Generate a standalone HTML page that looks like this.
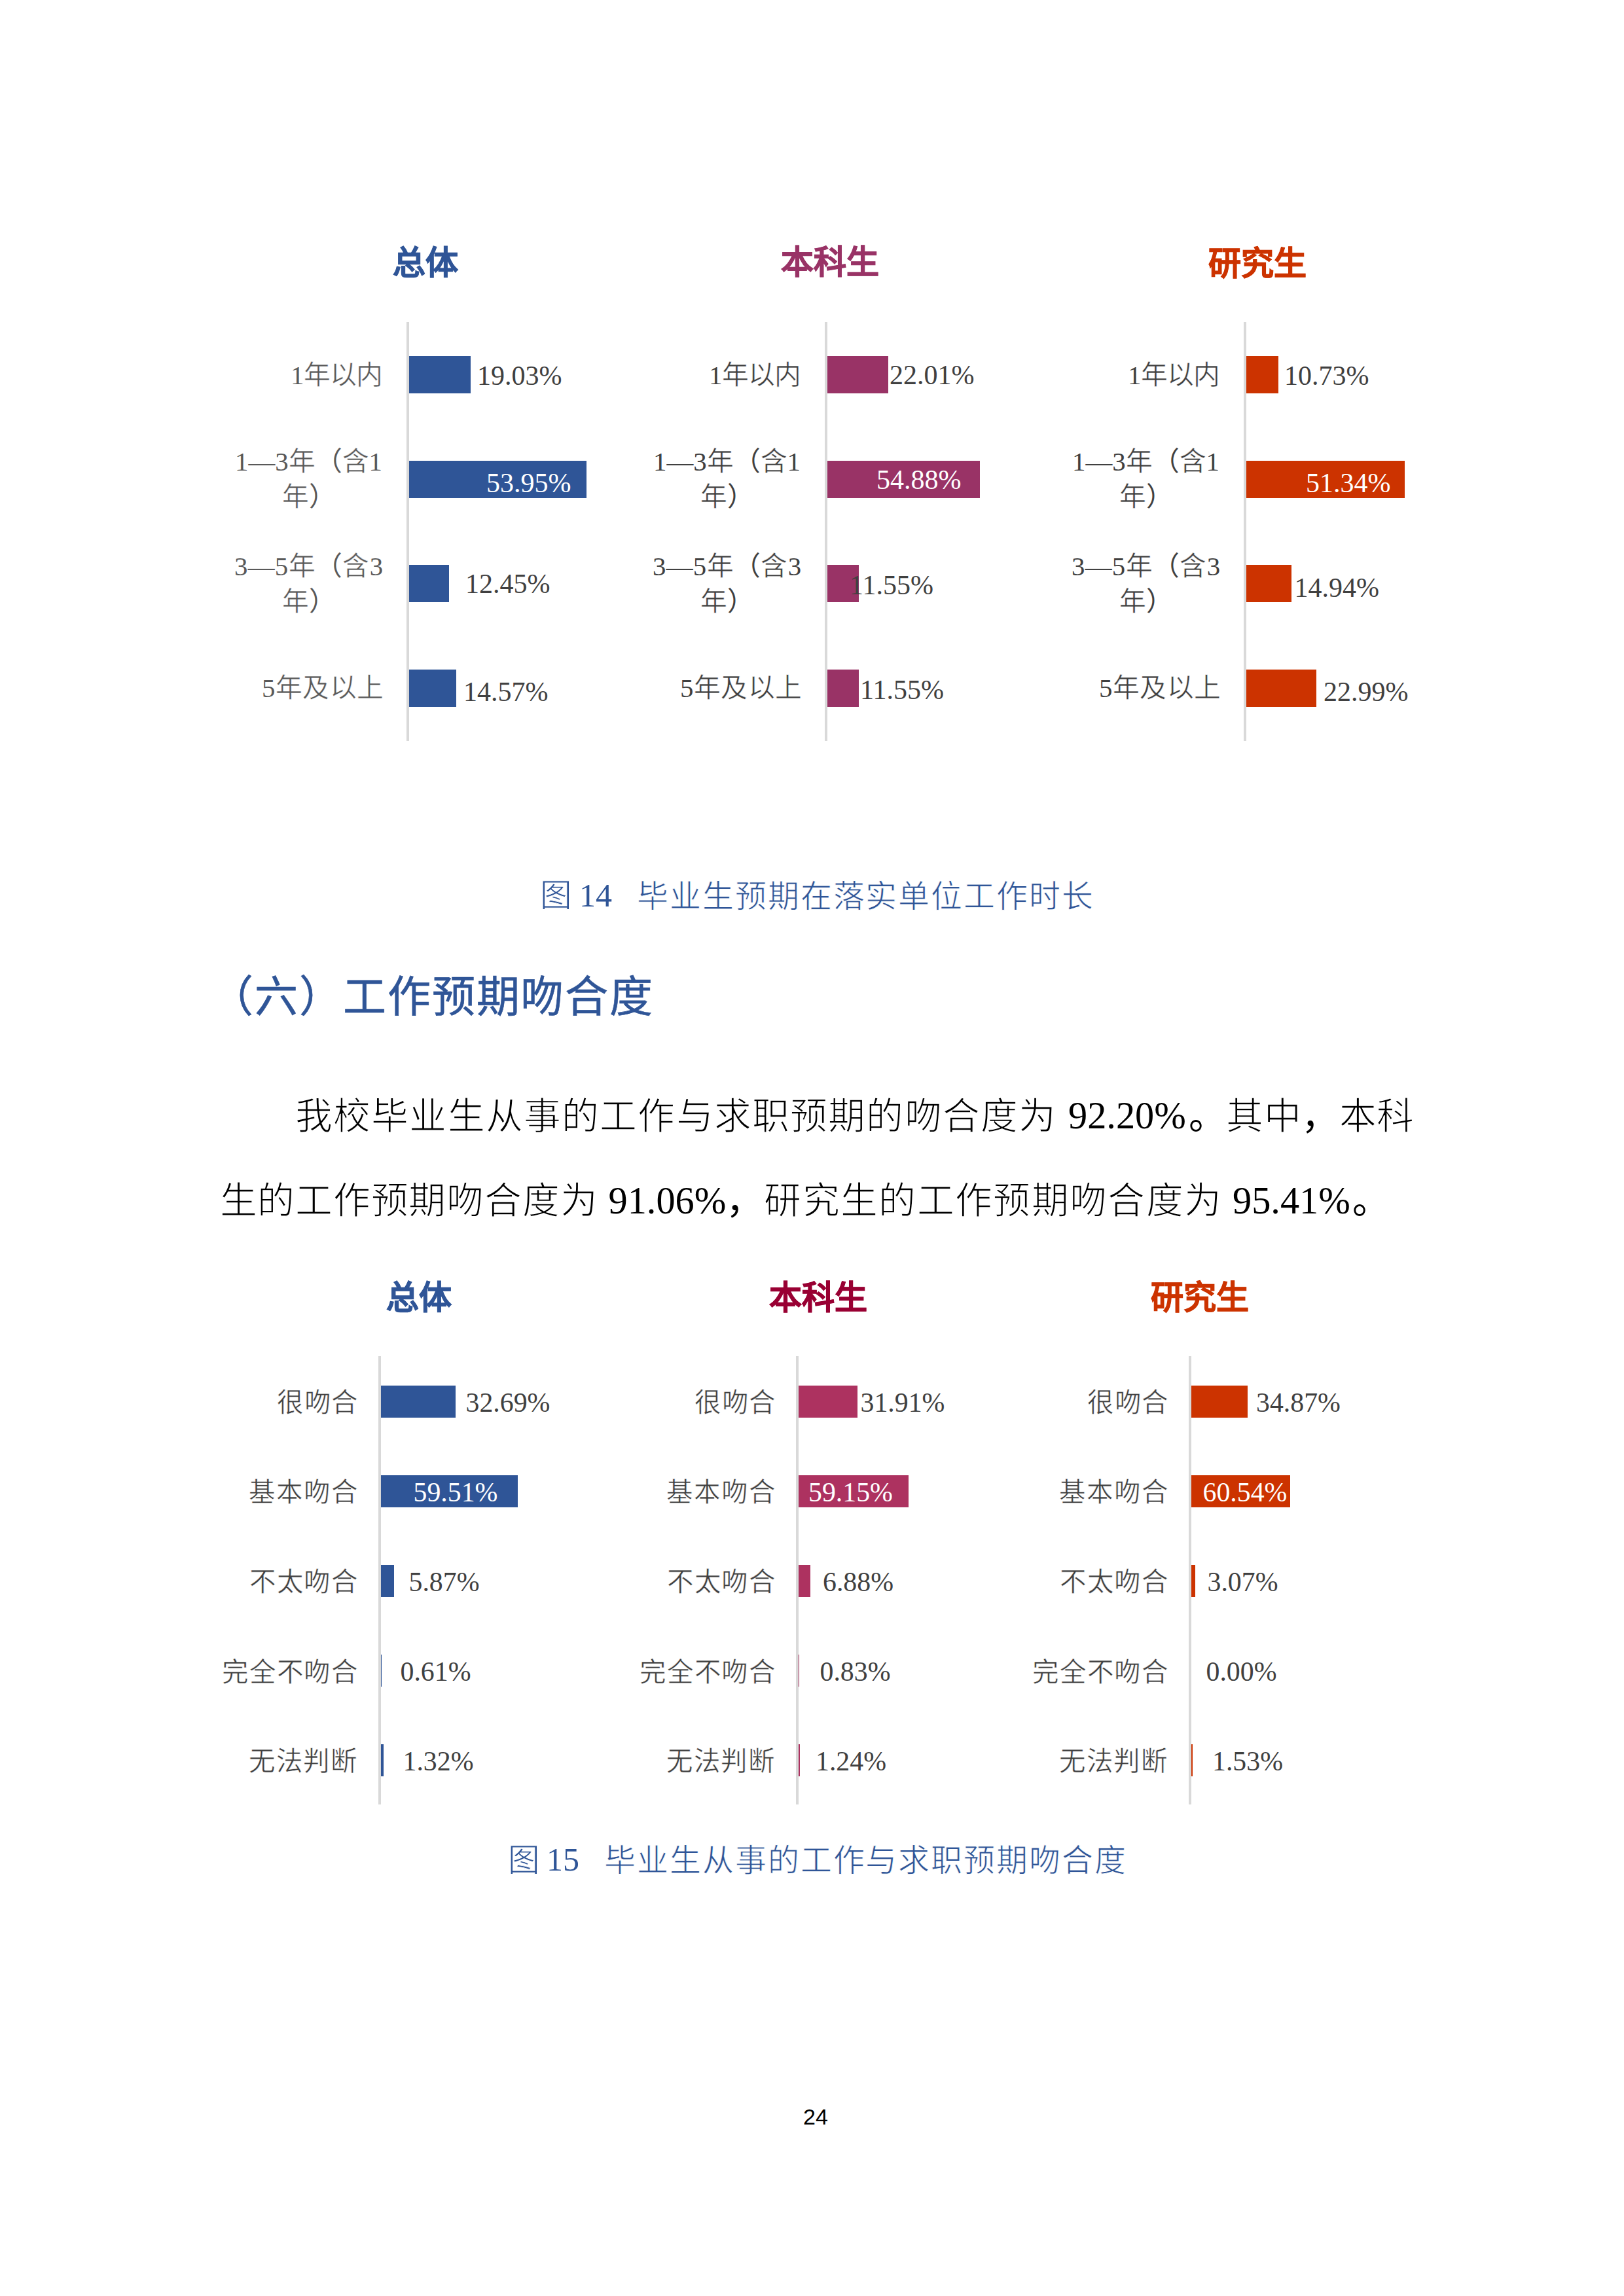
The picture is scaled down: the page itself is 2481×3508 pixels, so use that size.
<!DOCTYPE html><html lang="zh-CN"><head><meta charset="utf-8"><title>page 24</title><style>
html,body{margin:0;padding:0;background:#fff;}
body{width:2481px;height:3508px;position:relative;overflow:hidden;}
.r{position:absolute;}
.t{position:absolute;white-space:nowrap;line-height:1;}
</style></head><body>
<div class="r" style="left:621px;top:492px;width:4px;height:640px;background:#D9D9D9"></div>
<div class="r" style="left:625px;top:544px;width:94px;height:57px;background:#2F5597"></div>
<div class="r" style="left:625px;top:704px;width:271px;height:57px;background:#2F5597"></div>
<div class="r" style="left:625px;top:863px;width:61px;height:57px;background:#2F5597"></div>
<div class="r" style="left:625px;top:1023px;width:72px;height:57px;background:#2F5597"></div>
<div class="r" style="left:1260px;top:492px;width:4px;height:640px;background:#D9D9D9"></div>
<div class="r" style="left:1264px;top:544px;width:93px;height:57px;background:#993366"></div>
<div class="r" style="left:1264px;top:704px;width:233px;height:57px;background:#993366"></div>
<div class="r" style="left:1264px;top:863px;width:48px;height:57px;background:#993366"></div>
<div class="r" style="left:1264px;top:1023px;width:48px;height:57px;background:#993366"></div>
<div class="r" style="left:1900px;top:492px;width:4px;height:640px;background:#D9D9D9"></div>
<div class="r" style="left:1904px;top:544px;width:49px;height:57px;background:#CC3300"></div>
<div class="r" style="left:1904px;top:704px;width:242px;height:57px;background:#CC3300"></div>
<div class="r" style="left:1904px;top:863px;width:69px;height:57px;background:#CC3300"></div>
<div class="r" style="left:1904px;top:1023px;width:107px;height:57px;background:#CC3300"></div>
<div class="r" style="left:578px;top:2072px;width:4px;height:685px;background:#D9D9D9"></div>
<div class="r" style="left:582px;top:2117px;width:114px;height:49px;background:#2F5597"></div>
<div class="r" style="left:582px;top:2254px;width:209px;height:49px;background:#2F5597"></div>
<div class="r" style="left:582px;top:2391px;width:20px;height:49px;background:#2F5597"></div>
<div class="r" style="left:582px;top:2528px;width:1px;height:49px;background:#2F5597"></div>
<div class="r" style="left:582px;top:2665px;width:4px;height:49px;background:#2F5597"></div>
<div class="r" style="left:1216px;top:2072px;width:4px;height:685px;background:#D9D9D9"></div>
<div class="r" style="left:1220px;top:2117px;width:90px;height:49px;background:#AD3260"></div>
<div class="r" style="left:1220px;top:2254px;width:168px;height:49px;background:#AD3260"></div>
<div class="r" style="left:1220px;top:2391px;width:18px;height:49px;background:#AD3260"></div>
<div class="r" style="left:1220px;top:2528px;width:1px;height:49px;background:#AD3260"></div>
<div class="r" style="left:1220px;top:2665px;width:2px;height:49px;background:#AD3260"></div>
<div class="r" style="left:1816px;top:2072px;width:4px;height:685px;background:#D9D9D9"></div>
<div class="r" style="left:1820px;top:2117px;width:86px;height:49px;background:#CC3300"></div>
<div class="r" style="left:1820px;top:2254px;width:151px;height:49px;background:#CC3300"></div>
<div class="r" style="left:1820px;top:2391px;width:6px;height:49px;background:#CC3300"></div>
<div class="r" style="left:1820px;top:2665px;width:2px;height:49px;background:#CC3300"></div>
<div class="t" id="e0" style='left:600.00px;top:377.00px;font-family:"Liberation Sans", sans-serif;font-size:50.00px;color:#2F5597;font-weight:bold;-webkit-text-stroke:0.8px #2F5597'>总体</div>
<div class="t" id="e1" style='left:1193.00px;top:376.00px;font-family:"Liberation Sans", sans-serif;font-size:50.00px;color:#993366;font-weight:bold;-webkit-text-stroke:0.8px #993366'>本科生</div>
<div class="t" id="e2" style='left:1846.00px;top:378.00px;font-family:"Liberation Sans", sans-serif;font-size:50.00px;color:#CC3300;font-weight:bold;-webkit-text-stroke:0.8px #CC3300'>研究生</div>
<div class="t" id="e3" style='left:444.00px;top:554.10px;font-family:"Liberation Serif", serif;font-size:40.80px;color:#595959;letter-spacing:-0.667px'>1<span style="-webkit-text-stroke:0.55px #fff">年以内</span></div>
<div class="t" id="e4" style='left:359.00px;top:686.10px;font-family:"Liberation Serif", serif;font-size:40.80px;color:#595959'>1—3<span style="-webkit-text-stroke:0.55px #fff">年</span>（<span style="-webkit-text-stroke:0.55px #fff">含</span>1</div>
<div class="t" id="e5" style='left:431.00px;top:740.10px;font-family:"Liberation Serif", serif;font-size:40.80px;color:#595959'><span style="-webkit-text-stroke:0.55px #fff">年</span>）</div>
<div class="t" id="e6" style='left:358.00px;top:846.10px;font-family:"Liberation Serif", serif;font-size:40.80px;color:#595959;letter-spacing:0.333px'>3—5<span style="-webkit-text-stroke:0.55px #fff">年</span>（<span style="-webkit-text-stroke:0.55px #fff">含</span>3</div>
<div class="t" id="e7" style='left:431.00px;top:900.10px;font-family:"Liberation Serif", serif;font-size:40.80px;color:#595959'><span style="-webkit-text-stroke:0.55px #fff">年</span>）</div>
<div class="t" id="e8" style='left:400.00px;top:1032.10px;font-family:"Liberation Serif", serif;font-size:40.80px;color:#595959;letter-spacing:0.500px'>5<span style="-webkit-text-stroke:0.55px #fff">年及以上</span></div>
<div class="t" id="e9" style='left:1083.00px;top:554.10px;font-family:"Liberation Serif", serif;font-size:40.80px;color:#404040;letter-spacing:-0.667px'>1<span style="-webkit-text-stroke:0.55px #fff">年以内</span></div>
<div class="t" id="e10" style='left:998.00px;top:686.10px;font-family:"Liberation Serif", serif;font-size:40.80px;color:#404040'>1—3<span style="-webkit-text-stroke:0.55px #fff">年</span>（<span style="-webkit-text-stroke:0.55px #fff">含</span>1</div>
<div class="t" id="e11" style='left:1070.00px;top:740.10px;font-family:"Liberation Serif", serif;font-size:40.80px;color:#404040'><span style="-webkit-text-stroke:0.55px #fff">年</span>）</div>
<div class="t" id="e12" style='left:997.00px;top:846.10px;font-family:"Liberation Serif", serif;font-size:40.80px;color:#404040;letter-spacing:0.333px'>3—5<span style="-webkit-text-stroke:0.55px #fff">年</span>（<span style="-webkit-text-stroke:0.55px #fff">含</span>3</div>
<div class="t" id="e13" style='left:1070.00px;top:900.10px;font-family:"Liberation Serif", serif;font-size:40.80px;color:#404040'><span style="-webkit-text-stroke:0.55px #fff">年</span>）</div>
<div class="t" id="e14" style='left:1039.00px;top:1032.10px;font-family:"Liberation Serif", serif;font-size:40.80px;color:#404040;letter-spacing:0.500px'>5<span style="-webkit-text-stroke:0.55px #fff">年及以上</span></div>
<div class="t" id="e15" style='left:1723.00px;top:554.10px;font-family:"Liberation Serif", serif;font-size:40.80px;color:#404040;letter-spacing:-0.667px'>1<span style="-webkit-text-stroke:0.55px #fff">年以内</span></div>
<div class="t" id="e16" style='left:1638.00px;top:686.10px;font-family:"Liberation Serif", serif;font-size:40.80px;color:#404040'>1—3<span style="-webkit-text-stroke:0.55px #fff">年</span>（<span style="-webkit-text-stroke:0.55px #fff">含</span>1</div>
<div class="t" id="e17" style='left:1710.00px;top:740.10px;font-family:"Liberation Serif", serif;font-size:40.80px;color:#404040'><span style="-webkit-text-stroke:0.55px #fff">年</span>）</div>
<div class="t" id="e18" style='left:1637.00px;top:846.10px;font-family:"Liberation Serif", serif;font-size:40.80px;color:#404040;letter-spacing:0.333px'>3—5<span style="-webkit-text-stroke:0.55px #fff">年</span>（<span style="-webkit-text-stroke:0.55px #fff">含</span>3</div>
<div class="t" id="e19" style='left:1710.00px;top:900.10px;font-family:"Liberation Serif", serif;font-size:40.80px;color:#404040'><span style="-webkit-text-stroke:0.55px #fff">年</span>）</div>
<div class="t" id="e20" style='left:1679.00px;top:1032.10px;font-family:"Liberation Serif", serif;font-size:40.80px;color:#404040;letter-spacing:0.500px'>5<span style="-webkit-text-stroke:0.55px #fff">年及以上</span></div>
<div class="t" id="e21" style='left:729.00px;top:552.96px;font-family:"Liberation Serif", serif;font-size:42.00px;color:#404040'>19.03%</div>
<div class="t" id="e22" style='left:743.00px;top:716.96px;font-family:"Liberation Serif", serif;font-size:42.00px;color:#FFFFFF'>53.95%</div>
<div class="t" id="e23" style='left:711.00px;top:871.46px;font-family:"Liberation Serif", serif;font-size:42.00px;color:#404040'>12.45%</div>
<div class="t" id="e24" style='left:708.00px;top:1035.76px;font-family:"Liberation Serif", serif;font-size:42.00px;color:#404040'>14.57%</div>
<div class="t" id="e25" style='left:1359.00px;top:551.96px;font-family:"Liberation Serif", serif;font-size:42.00px;color:#404040'>22.01%</div>
<div class="t" id="e26" style='left:1339.00px;top:711.96px;font-family:"Liberation Serif", serif;font-size:42.00px;color:#FFFFFF'>54.88%</div>
<div class="t" id="e27" style='left:1298.00px;top:872.56px;font-family:"Liberation Serif", serif;font-size:42.00px;color:#404040'>11.55%</div>
<div class="t" id="e28" style='left:1314.00px;top:1032.96px;font-family:"Liberation Serif", serif;font-size:42.00px;color:#404040'>11.55%</div>
<div class="t" id="e29" style='left:1962.00px;top:552.96px;font-family:"Liberation Serif", serif;font-size:42.00px;color:#404040'>10.73%</div>
<div class="t" id="e30" style='left:1995.00px;top:716.96px;font-family:"Liberation Serif", serif;font-size:42.00px;color:#FFFFFF'>51.34%</div>
<div class="t" id="e31" style='left:1977.50px;top:876.76px;font-family:"Liberation Serif", serif;font-size:42.00px;color:#404040'>14.94%</div>
<div class="t" id="e32" style='left:2022.00px;top:1036.16px;font-family:"Liberation Serif", serif;font-size:42.00px;color:#404040'>22.99%</div>
<div class="t" id="e33" style='left:825.00px;top:1345.18px;font-family:"Liberation Serif", serif;font-size:48.50px;color:#2F5597'><span style="-webkit-text-stroke:0.9px #fff">图</span></div>
<div class="t" id="e34" style='left:885.00px;top:1343.00px;font-family:"Liberation Serif", serif;font-size:50.00px;color:#2F5597'>14</div>
<div class="t" id="e35" style='left:973.00px;top:1346.24px;font-family:"Liberation Serif", serif;font-size:48.00px;color:#2F5597;letter-spacing:1.923px'><span style="-webkit-text-stroke:0.9px #fff">毕业生预期在落实单位工作时长</span></div>
<div class="t" id="e36" style='left:321.00px;top:1491.08px;font-family:"Liberation Serif", serif;font-size:66.00px;color:#2F5597;letter-spacing:1.778px;-webkit-text-stroke:0.6px #2F5597'>（六）工作预期吻合度</div>
<div class="t" id="e37" style='left:451.00px;top:1678.18px;font-family:"Liberation Serif", serif;font-size:56.87px;color:#000000;letter-spacing:1.158px'><span style="-webkit-text-stroke:1.5px #fff">我校毕业生从事的工作与求职预期的吻合度为</span></div>
<div class="t" id="e38" style='left:1632.00px;top:1675.60px;font-family:"Liberation Serif", serif;font-size:58.33px;color:#000000'>92.20%</div>
<div class="t" id="e39" style='left:1816.00px;top:1678.18px;font-family:"Liberation Serif", serif;font-size:56.87px;color:#000000;letter-spacing:0.400px'>。<span style="-webkit-text-stroke:1.5px #fff">其中</span>，<span style="-webkit-text-stroke:1.5px #fff">本科</span></div>
<div class="t" id="e40" style='left:335.50px;top:1807.18px;font-family:"Liberation Serif", serif;font-size:56.87px;color:#000000;letter-spacing:0.778px'><span style="-webkit-text-stroke:1.5px #fff">生的工作预期吻合度为</span></div>
<div class="t" id="e41" style='left:929.50px;top:1805.80px;font-family:"Liberation Serif", serif;font-size:58.33px;color:#000000'>91.06%</div>
<div class="t" id="e42" style='left:1109.00px;top:1807.18px;font-family:"Liberation Serif", serif;font-size:56.87px;color:#000000;letter-spacing:1.333px'>，<span style="-webkit-text-stroke:1.5px #fff">研究生的工作预期吻合度为</span></div>
<div class="t" id="e43" style='left:1883.00px;top:1805.80px;font-family:"Liberation Serif", serif;font-size:58.33px;color:#000000'>95.41%</div>
<div class="t" id="e44" style='left:2066.00px;top:1807.18px;font-family:"Liberation Serif", serif;font-size:56.87px;color:#000000'>。</div>
<div class="t" id="e45" style='left:590.00px;top:1958.00px;font-family:"Liberation Sans", sans-serif;font-size:50.00px;color:#2F5597;font-weight:bold;-webkit-text-stroke:0.8px #2F5597'>总体</div>
<div class="t" id="e46" style='left:1175.00px;top:1958.00px;font-family:"Liberation Sans", sans-serif;font-size:50.00px;color:#990033;font-weight:bold;-webkit-text-stroke:0.8px #990033'>本科生</div>
<div class="t" id="e47" style='left:1757.50px;top:1958.00px;font-family:"Liberation Sans", sans-serif;font-size:50.00px;color:#CC3300;font-weight:bold;-webkit-text-stroke:0.8px #CC3300'>研究生</div>
<div class="t" id="e48" style='left:423.00px;top:2123.64px;font-family:"Liberation Serif", serif;font-size:40.50px;color:#404040;letter-spacing:1.500px'><span style="-webkit-text-stroke:0.55px #fff">很吻合</span></div>
<div class="t" id="e49" style='left:380.00px;top:2260.64px;font-family:"Liberation Serif", serif;font-size:40.50px;color:#404040;letter-spacing:2.000px'><span style="-webkit-text-stroke:0.55px #fff">基本吻合</span></div>
<div class="t" id="e50" style='left:381.00px;top:2397.64px;font-family:"Liberation Serif", serif;font-size:40.50px;color:#404040;letter-spacing:1.667px'><span style="-webkit-text-stroke:0.55px #fff">不太吻合</span></div>
<div class="t" id="e51" style='left:339.00px;top:2535.64px;font-family:"Liberation Serif", serif;font-size:40.50px;color:#404040;letter-spacing:1.750px'><span style="-webkit-text-stroke:0.55px #fff">完全不吻合</span></div>
<div class="t" id="e52" style='left:380.00px;top:2671.64px;font-family:"Liberation Serif", serif;font-size:40.50px;color:#404040;letter-spacing:1.667px'><span style="-webkit-text-stroke:0.55px #fff">无法判断</span></div>
<div class="t" id="e53" style='left:1061.00px;top:2123.64px;font-family:"Liberation Serif", serif;font-size:40.50px;color:#404040;letter-spacing:1.500px'><span style="-webkit-text-stroke:0.55px #fff">很吻合</span></div>
<div class="t" id="e54" style='left:1018.00px;top:2260.64px;font-family:"Liberation Serif", serif;font-size:40.50px;color:#404040;letter-spacing:2.000px'><span style="-webkit-text-stroke:0.55px #fff">基本吻合</span></div>
<div class="t" id="e55" style='left:1019.00px;top:2397.64px;font-family:"Liberation Serif", serif;font-size:40.50px;color:#404040;letter-spacing:1.667px'><span style="-webkit-text-stroke:0.55px #fff">不太吻合</span></div>
<div class="t" id="e56" style='left:977.00px;top:2535.64px;font-family:"Liberation Serif", serif;font-size:40.50px;color:#404040;letter-spacing:1.750px'><span style="-webkit-text-stroke:0.55px #fff">完全不吻合</span></div>
<div class="t" id="e57" style='left:1018.00px;top:2671.64px;font-family:"Liberation Serif", serif;font-size:40.50px;color:#404040;letter-spacing:1.667px'><span style="-webkit-text-stroke:0.55px #fff">无法判断</span></div>
<div class="t" id="e58" style='left:1661.00px;top:2123.64px;font-family:"Liberation Serif", serif;font-size:40.50px;color:#404040;letter-spacing:1.500px'><span style="-webkit-text-stroke:0.55px #fff">很吻合</span></div>
<div class="t" id="e59" style='left:1618.00px;top:2260.64px;font-family:"Liberation Serif", serif;font-size:40.50px;color:#404040;letter-spacing:2.000px'><span style="-webkit-text-stroke:0.55px #fff">基本吻合</span></div>
<div class="t" id="e60" style='left:1619.00px;top:2397.64px;font-family:"Liberation Serif", serif;font-size:40.50px;color:#404040;letter-spacing:1.667px'><span style="-webkit-text-stroke:0.55px #fff">不太吻合</span></div>
<div class="t" id="e61" style='left:1577.00px;top:2535.64px;font-family:"Liberation Serif", serif;font-size:40.50px;color:#404040;letter-spacing:1.750px'><span style="-webkit-text-stroke:0.55px #fff">完全不吻合</span></div>
<div class="t" id="e62" style='left:1618.00px;top:2671.64px;font-family:"Liberation Serif", serif;font-size:40.50px;color:#404040;letter-spacing:1.667px'><span style="-webkit-text-stroke:0.55px #fff">无法判断</span></div>
<div class="t" id="e63" style='left:711.50px;top:2122.68px;font-family:"Liberation Serif", serif;font-size:41.80px;color:#404040'>32.69%</div>
<div class="t" id="e64" style='left:631.50px;top:2259.88px;font-family:"Liberation Serif", serif;font-size:41.80px;color:#FFFFFF'>59.51%</div>
<div class="t" id="e65" style='left:624.50px;top:2396.58px;font-family:"Liberation Serif", serif;font-size:41.80px;color:#404040'>5.87%</div>
<div class="t" id="e66" style='left:611.50px;top:2533.58px;font-family:"Liberation Serif", serif;font-size:41.80px;color:#404040'>0.61%</div>
<div class="t" id="e67" style='left:615.50px;top:2671.18px;font-family:"Liberation Serif", serif;font-size:41.80px;color:#404040'>1.32%</div>
<div class="t" id="e68" style='left:1314.50px;top:2122.98px;font-family:"Liberation Serif", serif;font-size:41.80px;color:#404040'>31.91%</div>
<div class="t" id="e69" style='left:1235.00px;top:2260.48px;font-family:"Liberation Serif", serif;font-size:41.80px;color:#FFFFFF'>59.15%</div>
<div class="t" id="e70" style='left:1257.00px;top:2396.58px;font-family:"Liberation Serif", serif;font-size:41.80px;color:#404040'>6.88%</div>
<div class="t" id="e71" style='left:1252.50px;top:2533.98px;font-family:"Liberation Serif", serif;font-size:41.80px;color:#404040'>0.83%</div>
<div class="t" id="e72" style='left:1246.00px;top:2670.98px;font-family:"Liberation Serif", serif;font-size:41.80px;color:#404040'>1.24%</div>
<div class="t" id="e73" style='left:1919.00px;top:2122.98px;font-family:"Liberation Serif", serif;font-size:41.80px;color:#404040'>34.87%</div>
<div class="t" id="e74" style='left:1837.50px;top:2260.48px;font-family:"Liberation Serif", serif;font-size:41.80px;color:#FFFFFF'>60.54%</div>
<div class="t" id="e75" style='left:1844.50px;top:2396.58px;font-family:"Liberation Serif", serif;font-size:41.80px;color:#404040'>3.07%</div>
<div class="t" id="e76" style='left:1842.50px;top:2533.98px;font-family:"Liberation Serif", serif;font-size:41.80px;color:#404040'>0.00%</div>
<div class="t" id="e77" style='left:1852.00px;top:2670.98px;font-family:"Liberation Serif", serif;font-size:41.80px;color:#404040'>1.53%</div>
<div class="t" id="e78" style='left:776.00px;top:2819.18px;font-family:"Liberation Serif", serif;font-size:48.50px;color:#2F5597'><span style="-webkit-text-stroke:0.9px #fff">图</span></div>
<div class="t" id="e79" style='left:835.00px;top:2816.00px;font-family:"Liberation Serif", serif;font-size:50.00px;color:#2F5597'>15</div>
<div class="t" id="e80" style='left:923.00px;top:2819.24px;font-family:"Liberation Serif", serif;font-size:48.00px;color:#2F5597;letter-spacing:1.933px'><span style="-webkit-text-stroke:0.9px #fff">毕业生从事的工作与求职预期吻合度</span></div>
<div class="t" id="e81" style='left:1227.00px;top:3216.92px;font-family:"Liberation Sans", sans-serif;font-size:34.00px;color:#000000'>24</div>
</body></html>
